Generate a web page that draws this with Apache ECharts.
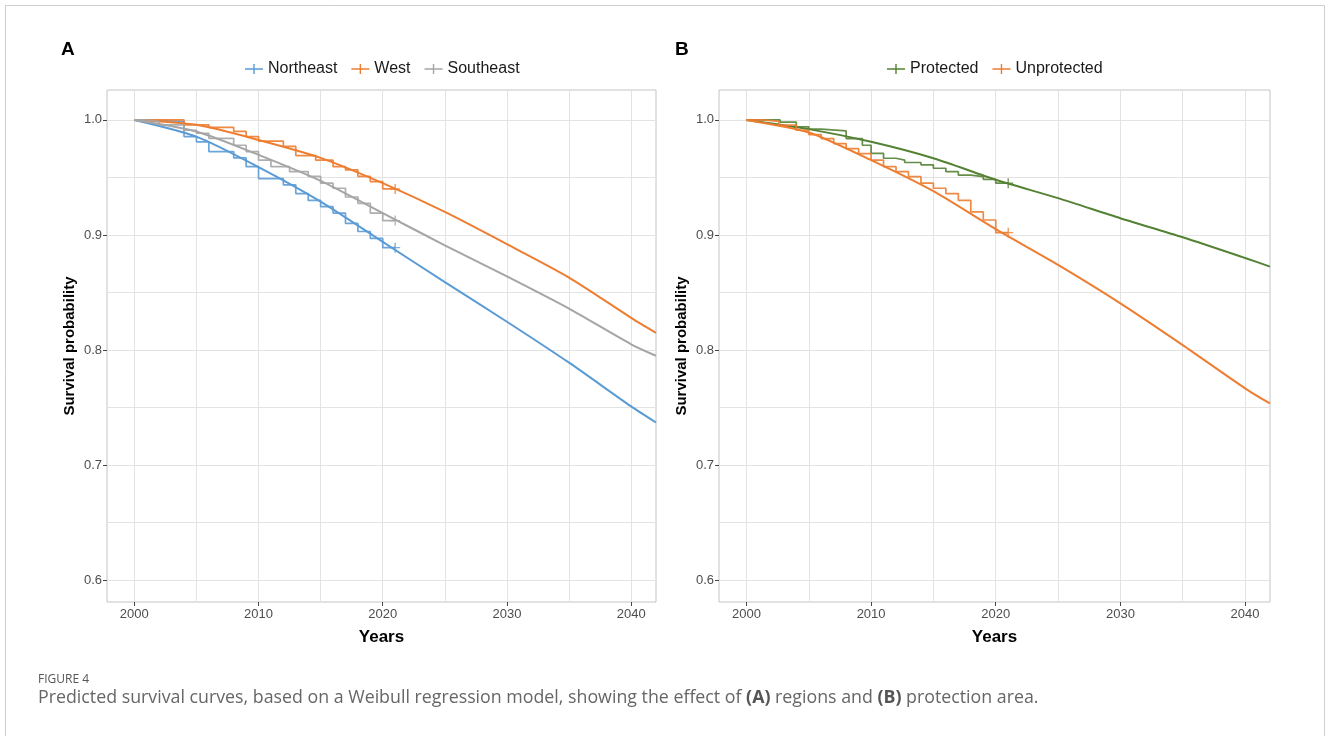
<!DOCTYPE html>
<html>
<head>
<meta charset="utf-8">
<script src="https://cdn.jsdelivr.net/npm/echarts@6/dist/echarts.min.js"></script>
<style>
html, body { margin: 0; padding: 0; background: #fff; }
#chart { width: 1330px; height: 736px; }
</style>
</head>
<body>
<div id="chart"></div>
<script>
// axis values
const xGridValues = [2000, 2005, 2010, 2015, 2020, 2025, 2030, 2035, 2040];
const xTickValues = [2000, 2010, 2020, 2030, 2040];
const yGridValues = [0.6, 0.65, 0.7, 0.75, 0.8, 0.85, 0.9, 0.95, 1.0];
const yTickValues = [0.6, 0.7, 0.8, 0.9, 1.0];

// years of the Weibull fitted curves
const fitYears = [2000, 2005, 2010, 2015, 2020, 2025, 2030, 2035, 2040, 2042];

// panel A: regions
const regionNames = ['Northeast', 'West', 'Southeast'];
const northeastFit = [1.0, 0.9855, 0.959, 0.929, 0.894, 0.859, 0.8246, 0.789, 0.751, 0.737];
const westFit = [1.0, 0.9957, 0.9826, 0.967, 0.945, 0.920, 0.892, 0.863, 0.828, 0.815];
const southeastFit = [1.0, 0.9899, 0.9696, 0.947, 0.919, 0.891, 0.864, 0.836, 0.805, 0.795];

// Kaplan-Meier steps [year, survival]
const northeastKM = [[2000, 1.0], [2001, 0.9985], [2004, 0.9855], [2005, 0.981], [2006, 0.9725], [2008, 0.967], [2009, 0.9594], [2010, 0.949], [2012, 0.9435], [2013, 0.936], [2014, 0.930], [2015, 0.9246], [2016, 0.919], [2017, 0.910], [2018, 0.903], [2019, 0.897], [2020, 0.889], [2021, 0.889]];
const westKM = [[2000, 1.0], [2004, 0.9957], [2006, 0.9936], [2008, 0.990], [2009, 0.9855], [2010, 0.9815], [2012, 0.977], [2013, 0.969], [2014.6, 0.965], [2016, 0.9594], [2017, 0.9565], [2018, 0.951], [2019, 0.9464], [2020, 0.940], [2021, 0.940]];
const southeastKM = [[2000, 1.0], [2001, 0.9985], [2002, 0.9957], [2004, 0.991], [2005, 0.9884], [2006, 0.984], [2008, 0.978], [2009, 0.9725], [2010, 0.965], [2011, 0.9594], [2012.5, 0.955], [2014, 0.951], [2015, 0.945], [2016, 0.9406], [2017, 0.933], [2018, 0.9275], [2019, 0.919], [2020, 0.9125], [2021, 0.9125]];

// panel B: protection
const protectNames = ['Protected', 'Unprotected'];
const protectedFit = [1.0, 0.992, 0.981, 0.9667, 0.948, 0.932, 0.9145, 0.898, 0.880, 0.8725];
const unprotectedFit = [1.0, 0.989, 0.965, 0.938, 0.905, 0.874, 0.8406, 0.8043, 0.7667, 0.7536];
const protectedKM = [[2000, 1.0], [2002.7, 0.998], [2004, 0.994], [2005, 0.992], [2006, 0.9904], [2008, 0.9838], [2009.3, 0.978], [2010, 0.971], [2011, 0.9667], [2012, 0.965], [2012.7, 0.963], [2014, 0.961], [2015, 0.958], [2016, 0.955], [2017, 0.952], [2018, 0.9507], [2019, 0.9484], [2020, 0.945], [2021, 0.945]];
const unprotectedKM = [[2000, 1.0], [2001.3, 0.9988], [2002.6, 0.9954], [2004, 0.991], [2005, 0.9873], [2006, 0.9838], [2007, 0.9794], [2008, 0.975], [2009, 0.9707], [2010, 0.965], [2011, 0.9594], [2012, 0.955], [2013, 0.9507], [2014, 0.945], [2015, 0.9406], [2016, 0.936], [2017, 0.930], [2018, 0.920], [2019, 0.913], [2020, 0.902], [2021, 0.902]];

const colors = {
	Northeast: '#5b9bd5',
	West: '#ed7d31',
	Southeast: '#a5a5a5',
	Protected: '#548235',
	Unprotected: '#ed7d31',
};

const FONT = "'Liberation Sans', Arial, sans-serif";
const plusIcon = 'path://M0,4.3 H8.3 V0 H9.7 V4.3 H18 V5.7 H9.7 V10 H8.3 V5.7 H0 Z';
const plusMark = 'path://M0,4.3 H4.3 V0 H5.7 V4.3 H10 V5.7 H5.7 V10 H4.3 V5.7 H0 Z';

const X_MIN = 1997.8, X_MAX = 2042;
const Y_MIN = 0.581, Y_MAX = 1.026;

function panelSeries(name, fit, km, p) {
	const color = colors[name];
	const ax = 2 * p + 1;
	return [
		{
			name: name,
			type: 'line',
			xAxisIndex: ax,
			yAxisIndex: ax,
			data: fitYears.map((y, i) => [y, fit[i]]),
			smooth: 0.25,
			showSymbol: false,
			lineStyle: { color: color, width: 2 },
			itemStyle: { color: color },
		},
		{
			name: name,
			type: 'line',
			xAxisIndex: ax,
			yAxisIndex: ax,
			data: km,
			step: 'end',
			showSymbol: false,
			lineStyle: { color: color, width: 1.7, opacity: 0.9 },
			itemStyle: { color: color },
		},
		{
			name: name,
			type: 'scatter',
			xAxisIndex: ax,
			yAxisIndex: ax,
			data: [km[km.length - 1]],
			symbol: plusMark,
			symbolSize: 10,
			itemStyle: { color: color },
		},
	];
}

function axesFor(p) {
	// gridline axis + label axis for each panel
	const xs = [
		{
			type: 'value', gridIndex: p, min: X_MIN, max: X_MAX, position: 'top',
			axisLine: { show: false },
			axisTick: { show: false, customValues: xGridValues },
			axisLabel: { show: false },
			splitLine: { show: true, lineStyle: { color: '#e3e3e3', width: 1 } },
		},
		{
			type: 'value', gridIndex: p, min: X_MIN, max: X_MAX, position: 'bottom',
			axisLine: { show: false },
			axisTick: { show: true, customValues: xTickValues, length: 4, lineStyle: { color: '#444' } },
			axisLabel: {
				customValues: xTickValues, color: '#4d4d4d', fontSize: 13, fontFamily: FONT, margin: 6,
				formatter: (v) => String(v),
			},
			splitLine: { show: false },
			name: 'Years', nameLocation: 'middle', nameGap: 27,
			nameTextStyle: { color: '#000', fontSize: 17, fontWeight: 'bold', fontFamily: FONT },
		},
	];
	const ys = [
		{
			type: 'value', gridIndex: p, min: Y_MIN, max: Y_MAX, position: 'right',
			axisLine: { show: false },
			axisTick: { show: false, customValues: yGridValues },
			axisLabel: { show: false },
			splitLine: { show: true, lineStyle: { color: '#e3e3e3', width: 1 } },
		},
		{
			type: 'value', gridIndex: p, min: Y_MIN, max: Y_MAX, position: 'left',
			axisLine: { show: false },
			axisTick: { show: true, customValues: yTickValues, length: 4, lineStyle: { color: '#444' } },
			axisLabel: {
				customValues: yTickValues, color: '#4d4d4d', fontSize: 13, fontFamily: FONT, margin: 5,
				formatter: (v) => v.toFixed(1),
			},
			splitLine: { show: false },
			name: 'Survival probability', nameLocation: 'middle', nameGap: 30, nameRotate: 90,
			nameTextStyle: { color: '#000', fontSize: 15, fontWeight: 'bold', fontFamily: FONT },
		},
	];
	return { xs, ys };
}

const a0 = axesFor(0);
const a1 = axesFor(1);

const legendBase = {
	orient: 'horizontal',
	top: 56,
	itemWidth: 18,
	itemHeight: 10,
	itemGap: 14,
	icon: plusIcon,
	textStyle: { color: '#1a1a1a', fontSize: 16, fontFamily: FONT },
};

const option = {
	animation: false,
	backgroundColor: '#fff',
	grid: [
		{ left: 107, top: 90, width: 549, height: 512, show: true, borderColor: '#c4c4c4', borderWidth: 1, backgroundColor: 'transparent' },
		{ left: 719, top: 90, width: 551, height: 512, show: true, borderColor: '#c4c4c4', borderWidth: 1, backgroundColor: 'transparent' },
	],
	legend: [
		Object.assign({}, legendBase, { left: 240, data: regionNames }),
		Object.assign({}, legendBase, { left: 882, data: protectNames }),
	],
	xAxis: a0.xs.concat(a1.xs),
	yAxis: a0.ys.concat(a1.ys),
	series: [].concat(
		panelSeries('Northeast', northeastFit, northeastKM, 0),
		panelSeries('West', westFit, westKM, 0),
		panelSeries('Southeast', southeastFit, southeastKM, 0),
		panelSeries('Protected', protectedFit, protectedKM, 1),
		panelSeries('Unprotected', unprotectedFit, unprotectedKM, 1)
	),
	graphic: [
		{
			type: 'rect', silent: true, z: -10,
			shape: { x: 5.5, y: 5.5, width: 1319, height: 760 },
			style: { fill: 'none', stroke: '#cfcfcf', lineWidth: 1 },
		},
		{ type: 'text', left: 61, top: 40, style: { text: 'A', font: 'bold 19px ' + FONT, fill: '#000' } },
		{ type: 'text', left: 675, top: 40, style: { text: 'B', font: 'bold 19px ' + FONT, fill: '#000' } },
		{ type: 'text', left: 38, top: 674, style: { text: 'FIGURE 4', font: '12px "Open Sans", sans-serif', fill: '#555' } },
		{
			type: 'text', left: 38, top: 689,
			style: {
				text: 'Predicted survival curves, based on a Weibull regression model, showing the effect of {b|(A)} regions and {b|(B)} protection area.',
				font: '17.8px "Open Sans", sans-serif',
				fill: '#666',
				rich: { b: { fontWeight: 'bold', fontSize: 17.8, fontFamily: 'Open Sans', fill: '#555' } },
			},
		},
	],
};

const myChart = echarts.init(document.getElementById('chart'));
myChart.setOption(option);
</script>
</body>
</html>
